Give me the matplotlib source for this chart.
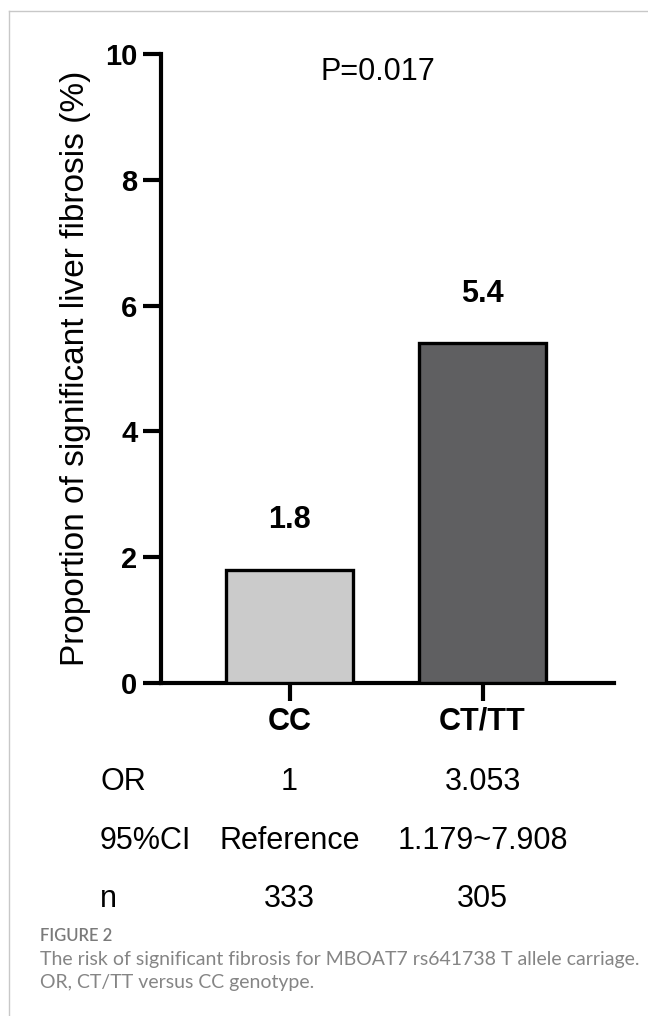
import matplotlib
matplotlib.use('Agg')
import matplotlib.pyplot as plt
from matplotlib.lines import Line2D
import matplotlib.transforms as mtransforms

plt.rcParams['font.family'] = ['Liberation Sans', 'DejaVu Sans']

### ----------------------
### Data
### ----------------------
genotypes = ["CC", "CT/TT"]
fibrosis_pct = [1.8, 5.4]
bar_labels = ["1.8", "5.4"]
bar_colors = ["#cbcbcb", "#5f5f61"]
p_text = "P=0.017"

row_names = ["OR", "95%CI", "n"]
or_vals = ["1", "3.053"]
ci_vals = ["Reference", "1.179~7.908"]
n_vals = ["333", "305"]

y_ticks = [0, 2, 4, 6, 8, 10]
y_label = "Proportion of significant liver fibrosis (%)"

caption_head = "FIGURE 2"
caption_lines = [
	"The risk of significant fibrosis for MBOAT7 rs641738 T allele carriage.",
	"OR, CT/TT versus CC genotype.",
]

W, H = 648, 1016
fig = plt.figure(figsize=(W / 100, H / 100), dpi=100)


def fx(px):
	return px / W


def fy(py):
	return 1 - py / H


ax = fig.add_axes([fx(161), fy(683), fx(614) - fx(161), fy(54) - fy(683)])

x = list(range(len(genotypes)))
ax.bar(x, fibrosis_pct, width=0.658, color=bar_colors, edgecolor='black', linewidth=2.4, zorder=3)
for xi, v, lab in zip(x, fibrosis_pct, bar_labels):
	ax.annotate(lab, (xi, v), xytext=(0, 30), textcoords='offset points',
				ha='center', va='baseline', fontsize=22, fontweight='bold')

ax.set_xlim(-0.666, 1.681)
ax.set_ylim(0, 10)
ax.set_yticks(y_ticks)
ax.set_yticklabels([str(t) for t in y_ticks], fontsize=21, fontweight='bold')
ax.set_xticks(x)
ax.set_xticklabels(genotypes, fontsize=22, fontweight='bold')
ax.tick_params(axis='both', width=3, length=13, pad=4)
ax.spines['top'].set_visible(False)
ax.spines['right'].set_visible(False)
ax.spines['left'].set_linewidth(3)
ax.spines['bottom'].set_linewidth(3)
ax.set_ylabel(y_label, fontsize=24, labelpad=10)

fig.text(fx(378), fy(72), p_text, ha='center', va='center', fontsize=22)

# table below the axis: x in data coords, y in figure coords
trans = mtransforms.blended_transform_factory(ax.transData, fig.transFigure)
row_y = [790, 849, 907]
for name, vals, ry in zip(row_names, [or_vals, ci_vals, n_vals], row_y):
	fig.text(fx(100), fy(ry), name, ha='left', va='baseline', fontsize=22)
	for xi, v in zip(x, vals):
		ax.text(xi, fy(ry), v, transform=trans, ha='center', va='baseline', fontsize=22, clip_on=False)

# light frame on left and top
fig.add_artist(Line2D([fx(9), fx(9)], [0, fy(11)], color='#c8c8c8', linewidth=1))
fig.add_artist(Line2D([fx(9), 1], [fy(11), fy(11)], color='#c8c8c8', linewidth=1))

fig.text(fx(40), fy(941), caption_head, ha='left', va='baseline', fontsize=12,
		 color='#7a7a7a', family='Lato', fontweight='semibold')
for i, line in enumerate(caption_lines):
	fig.text(fx(40), fy(965 + 23 * i), line, ha='left', va='baseline', fontsize=14,
			 color='#858585', family='Lato')

fig.savefig('out.png', dpi=100)
